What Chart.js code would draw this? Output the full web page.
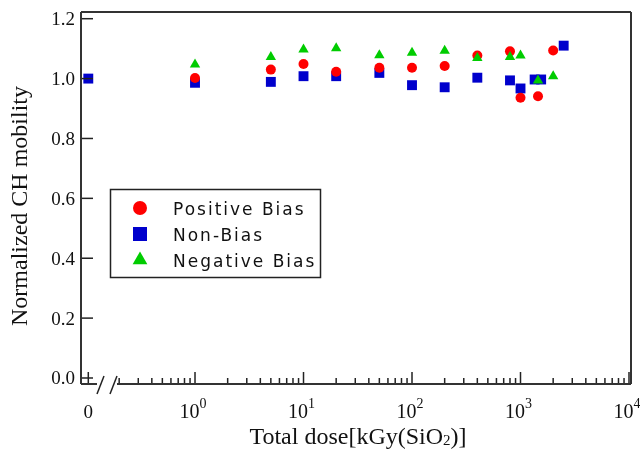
<!DOCTYPE html>
<html>
<head>
<meta charset="utf-8">
<script src="https://cdn.jsdelivr.net/npm/chart.js@4.4.1/dist/chart.umd.min.js"></script>
<style>
  html, body { margin: 0; padding: 0; background: #fff; }
  #wrap { width: 640px; height: 450px; }
</style>
</head>
<body>
<div id="wrap"><canvas id="chart" width="640" height="450"></canvas></div>
<script>
// ── data: dose in kGy(SiO2), normalized channel mobility ─────
const DOSE_POS = [1, 5, 10, 20, 50, 100, 200, 400, 800, 1000, 1450, 2000];
const MOB_POS  = [1.002, 1.030, 1.049, 1.023, 1.036, 1.036, 1.042, 1.077, 1.091, 0.936, 0.941, 1.094];

const DOSE_NON = [1, 5, 10, 20, 50, 100, 200, 400, 800, 1000, 1350, 1550, 2500];
const MOB_NON  = [0.986, 0.989, 1.008, 1.008, 1.019, 0.978, 0.971, 1.003, 0.994, 0.967, 0.997, 0.997, 1.110];

const DOSE_NEG = [1, 5, 10, 20, 50, 100, 200, 400, 800, 1000, 1450, 2000];
const MOB_NEG  = [1.047, 1.072, 1.097, 1.101, 1.078, 1.086, 1.093, 1.069, 1.072, 1.077, 0.994, 1.008];

// point before irradiation, drawn on the broken "0" part of the axis
const DOSE_ZERO = [0];
const MOB_ZERO  = [1.0];

const Y_TICKS     = [0, 0.2, 0.4, 0.6, 0.8, 1.0, 1.2];
const X_EXPONENTS = [0, 1, 2, 3, 4];

const RED   = '#ff0000';
const BLUE  = '#0000cc';
const GREEN = '#00cc00';
const INK   = '#222';
const SERIF = '"Liberation Serif", "Times New Roman", serif';

const pts = (xs, ys) => xs.map((x, i) => ({ x, y: ys[i] }));

function line(ctx, x1, y1, x2, y2) {
  ctx.beginPath(); ctx.moveTo(x1, y1); ctx.lineTo(x2, y2); ctx.stroke();
}

// ── axes, frame, break marks, titles ─────────────────────────
const axesPlugin = {
  id: 'axes',
  afterDatasetsDraw(chart) {
    const { ctx, chartArea: a, scales } = chart;
    const x = scales.x, x0 = scales.x0, y = scales.y;
    ctx.save();
    ctx.strokeStyle = INK;
    ctx.lineWidth = 1.5;

    // y ticks (inside)
    Y_TICKS.forEach(v => {
      const py = y.getPixelForValue(v);
      line(ctx, a.left, py, a.left + 12, py);
    });

    // tick at 0 on the broken part
    const zx = x0.getPixelForValue(0);
    line(ctx, zx, a.bottom, zx, a.bottom - 12);

    // log ticks, from 0.2 up to 10^4
    [0.1, 1, 10, 100, 1000, 10000].forEach(d => {
      for (let k = 1; k <= 9; k++) {
        const v = d * k;
        if (v < 0.15 || v > x.max) continue;
        const px = x.getPixelForValue(v);
        line(ctx, px, a.bottom, px, a.bottom - (k === 1 ? 12 : 6));
      }
    });

    // frame with a break near the left
    ctx.lineWidth = 2;
    ctx.strokeStyle = '#333';
    line(ctx, a.left, a.top, a.right, a.top);
    line(ctx, a.left, a.top, a.left, a.bottom);
    line(ctx, a.right, a.top, a.right, a.bottom);
    line(ctx, a.left, a.bottom, a.left + 16, a.bottom);
    line(ctx, a.left + 36, a.bottom, a.right, a.bottom);
    ctx.lineWidth = 1.5;
    ctx.strokeStyle = INK;
    line(ctx, a.left + 16, a.bottom + 10, a.left + 23, a.bottom - 8);
    line(ctx, a.left + 29, a.bottom + 10, a.left + 36, a.bottom - 8);

    // tick labels
    ctx.fillStyle = '#111';
    ctx.font = `19px ${SERIF}`;
    ctx.textAlign = 'right';
    ctx.textBaseline = 'alphabetic';
    Y_TICKS.forEach(v => {
      ctx.fillText(v.toFixed(1), a.left - 6, y.getPixelForValue(v) + 6.5);
    });

    const base = a.bottom + 34;
    ctx.textAlign = 'center';
    ctx.fillText('0', zx, base);
    ctx.textAlign = 'left';
    X_EXPONENTS.forEach(e => {
      const px = x.getPixelForValue(10 ** e);
      ctx.font = `20px ${SERIF}`;
      const wb = ctx.measureText('10').width;
      ctx.font = `14px ${SERIF}`;
      const ws = ctx.measureText(String(e)).width;
      const left = px - (wb + ws) / 2 - 2;
      ctx.font = `20px ${SERIF}`;
      ctx.fillText('10', left, base);
      ctx.font = `14px ${SERIF}`;
      ctx.fillText(String(e), left + wb, base - 10);
    });

    // axis titles
    ctx.font = `24px ${SERIF}`;
    const parts = [['Total dose[kGy(SiO', 24, 0], ['2', 15, 1], [')]', 24, 0]];
    const widths = parts.map(([t, s]) => { ctx.font = `${s}px ${SERIF}`; return ctx.measureText(t).width; });
    let tx = 358 - widths.reduce((p, c) => p + c, 0) / 2;
    parts.forEach(([t, s, dy], i) => {
      ctx.font = `${s}px ${SERIF}`;
      ctx.fillText(t, tx, 444 + dy);
      tx += widths[i];
    });

    ctx.translate(27, 206);
    ctx.rotate(-Math.PI / 2);
    ctx.textAlign = 'center';
    ctx.font = `24px ${SERIF}`;
    ctx.fillText('Normalized CH mobility', 0, 0);
    ctx.restore();
  },
};

// ── legend box inside the plot ───────────────────────────────
const legendPlugin = {
  id: 'boxLegend',
  afterDraw(chart) {
    const { ctx } = chart;
    const items = chart.data.datasets.filter(d => d.inLegend);
    const sizes = { circle: 7, rect: 9.9, triangle: 8.5 };
    ctx.save();
    ctx.strokeStyle = INK;
    ctx.lineWidth = 1.5;
    ctx.strokeRect(110.5, 189.5, 210, 88);
    ctx.font = '17px "DejaVu Sans", sans-serif';
    ctx.letterSpacing = '2px';
    ctx.textBaseline = 'alphabetic';
    ctx.textAlign = 'left';
    items.forEach((d, i) => {
      const cy = 208 + i * 26;
      ctx.fillStyle = d.backgroundColor;
      Chart.helpers.drawPoint(ctx, { pointStyle: d.pointStyle, radius: sizes[d.pointStyle], rotation: 0, borderWidth: 0 }, 140, cy);
      ctx.fillStyle = '#111';
      ctx.fillText(d.label, 173, cy + 7);
    });
    ctx.restore();
  },
};

const marker = (color, style, r) => ({
  pointStyle: style, pointRadius: r, pointHoverRadius: r,
  backgroundColor: color, borderColor: color, borderWidth: 0, showLine: false,
});

new Chart(document.getElementById('chart'), {
  type: 'scatter',
  data: {
    datasets: [
      { label: 'Positive Bias', data: pts(DOSE_POS, MOB_POS), ...marker(RED, 'circle', 5), order: 1, inLegend: true },
      { label: 'Non-Bias', data: pts(DOSE_NON, MOB_NON), ...marker(BLUE, 'rect', 7), order: 2, inLegend: true },
      { label: 'Negative Bias', data: pts(DOSE_NEG, MOB_NEG), ...marker(GREEN, 'triangle', 6), order: 0, inLegend: true },
      { label: 'Non-Bias (0 kGy)', data: pts(DOSE_ZERO, MOB_ZERO), ...marker(BLUE, 'rect', 7), order: 2, xAxisID: 'x0' },
    ],
  },
  options: {
    responsive: false,
    animation: false,
    devicePixelRatio: 1,
    layout: { padding: { left: 81, top: 12, right: 9, bottom: 66 } },
    plugins: { legend: { display: false }, tooltip: { enabled: false } },
    scales: {
      x:  { type: 'logarithmic', min: 0.08896, max: 10433, display: false },
      x0: { type: 'linear', min: -1, max: 74.4, display: false },
      y:  { type: 'linear', min: -0.02006, max: 1.2224, display: false },
    },
  },
  plugins: [axesPlugin, legendPlugin],
});
</script>
</body>
</html>
